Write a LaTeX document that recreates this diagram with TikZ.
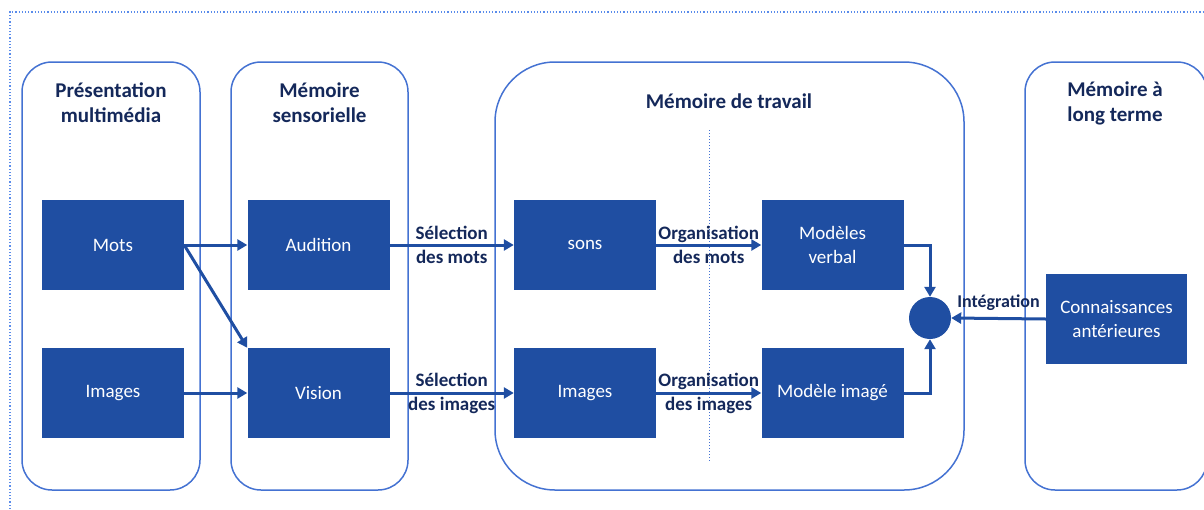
\documentclass[tikz,border=0pt]{standalone}
\usepackage{fontspec}
\setmainfont{Carlito}
\usetikzlibrary{arrows.meta}
\definecolor{boxblue}{RGB}{31,78,162}
\definecolor{panelblue}{RGB}{68,114,210}
\definecolor{navy}{RGB}{20,40,90}
\definecolor{dotblue}{RGB}{90,140,235}
\begin{document}
\begin{tikzpicture}[x=1pt,y=-1pt,
  panel/.style={draw=panelblue, line width=1.5pt, rounded corners=30pt, inner sep=0pt},
  ptitle/.style={text=navy, font=\fontsize{21}{25}\selectfont\bfseries, align=center, inner sep=0pt},
  dbox/.style={fill=boxblue, text=white, minimum width=142pt, minimum height=90pt, inner sep=0pt, align=center, font=\fontsize{19}{24}\selectfont},
  lab/.style={text=navy, font=\fontsize{19}{24}\selectfont\bfseries, align=center, inner sep=0pt},
  arr/.style={draw=boxblue, line width=3pt, -{Triangle[length=10pt,width=11pt]}},
]
\useasboundingbox (0,0) rectangle (1204,509);
\clip (0,0) rectangle (1204,509);
% dotted frame
\draw[dotblue, line width=1.2pt, dotted] (10,509) -- (10,12) -- (1210,12);
% panels
\node[panel, minimum width=178pt, minimum height=428pt] (p1) at (111,276) {};
\node[panel, minimum width=177pt, minimum height=428pt] (p2) at (319.5,276) {};
\node[panel, rounded corners=60pt, minimum width=469pt, minimum height=428pt] (p3) at (729.5,276) {};
\node[panel, minimum width=182pt, minimum height=428pt] (p4) at (1116,276) {};
% titles
\node[ptitle] (t1) at (111,103) {Présentation\\multimédia};
\node[ptitle] (t2) at (319.5,103) {Mémoire\\sensorielle};
\node[ptitle] (t3) at (729,101) {Mémoire de travail};
\node[ptitle] (t4) at (1115,103) {Mémoire à\\long terme};
% dotted divider
\draw[panelblue, line width=1pt, dotted] (709,130) -- (709,462);
% boxes
\node[dbox] (mots) at (113,245) {Mots};
\node[dbox] (img) at (113,393) {Images};
\node[dbox] (aud) at (318.5,245) {Audition};
\node[dbox] (vis) at (318.5,393) {Vision};
\node[dbox] (sons) at (585,245) {sons};
\node[dbox] (img2) at (585,393) {Images};
\node[dbox] (mv) at (832.5,245) {Modèles\\verbal};
\node[dbox] (mi) at (832.5,393) {Modèle imagé};
\node[dbox, minimum width=141pt] (conn) at (1116.5,319) {Connaissances\\antérieures};
\node[circle, fill=boxblue, minimum size=42pt, inner sep=0pt] (circ) at (930,318) {};
% arrows
\draw[arr] (mots.east) -- (aud.west);
\draw[arr] (mots.east) -- (vis.north west);
\draw[arr] (img.east) -- (vis.west);
\draw[arr] (aud.east) -- (sons.west) node[lab, midway] {Sélection\\des mots};
\draw[arr] (vis.east) -- (img2.west) node[lab, midway] {Sélection\\des images};
\draw[arr] (sons.east) -- (mv.west) node[lab, midway] {Organisation\\des mots};
\draw[arr] (img2.east) -- (mi.west) node[lab, midway] {Organisation\\des images};
\draw[arr] (mv.east) -| (circ.north);
\draw[arr] (mi.east) -| (circ.south);
\draw[arr] (conn.west) -- (circ.east) node[lab, font=\fontsize{18}{22}\selectfont\bfseries, midway, above=6pt] {Intégration};
\end{tikzpicture}
\end{document}
